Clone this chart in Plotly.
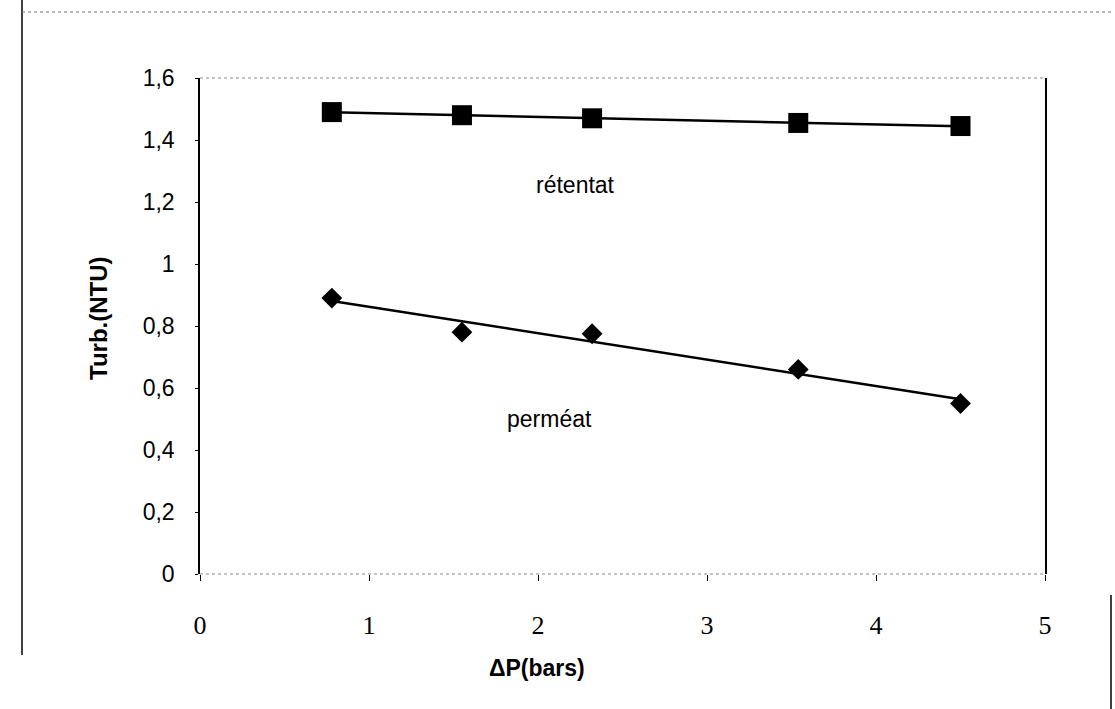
import numpy as np
import plotly.graph_objects as go

# Transmembrane pressure (bars) and turbidity (NTU)
dp_bars = [0.78, 1.55, 2.32, 3.54, 4.5]
turb_retentat = [1.49, 1.48, 1.47, 1.455, 1.445]
turb_permeat = [0.89, 0.78, 0.775, 0.66, 0.55]

y_tickvals = [0, 0.2, 0.4, 0.6, 0.8, 1.0, 1.2, 1.4, 1.6]
y_ticktext = ["0", "0,2", "0,4", "0,6", "0,8", "1", "1,2", "1,4", "1,6"]
x_tickvals = [0, 1, 2, 3, 4, 5]
x_ticktext = ["0", "1", "2", "3", "4", "5"]

SANS = "Liberation Sans, Arial, sans-serif"
SERIF = "Liberation Serif, Times New Roman, serif"

W, H = 1115, 709
M = dict(l=200, r=70, t=78, b=135)

fig = go.Figure()


def add_series(y, symbol, size):
    # linear trendline spanning the measured pressure range
    slope, intercept = np.polyfit(dp_bars, y, 1)
    xs = [min(dp_bars), max(dp_bars)]
    fig.add_trace(go.Scatter(
        x=xs, y=[slope * v + intercept for v in xs], mode="lines",
        line=dict(color="black", width=2.5), hoverinfo="skip", showlegend=False))
    fig.add_trace(go.Scatter(
        x=dp_bars, y=y, mode="markers",
        marker=dict(symbol=symbol, size=size, color="black"), showlegend=False))


add_series(turb_retentat, "square", 20)
add_series(turb_permeat, "diamond", 16)

fig.add_annotation(x=2.22, y=1.255, text="rétentat", showarrow=False,
                   font=dict(family=SANS, size=23, color="black"))
fig.add_annotation(x=2.07, y=0.50, text="perméat", showarrow=False,
                   font=dict(family=SANS, size=23, color="black"))


def px_x(p):
    return (p - M["l"]) / (W - M["l"] - M["r"])


def px_y(p):
    return (H - M["b"] - p) / (H - M["t"] - M["b"])


# axis titles
fig.add_annotation(x=px_x(98), y=px_y(318), xref="paper", yref="paper",
                   xanchor="center", yanchor="middle",
                   text="<b>Turb.(NTU)</b>", textangle=-90, showarrow=False,
                   font=dict(family=SANS, size=24, color="black"))
fig.add_annotation(x=px_x(537), y=px_y(668), xref="paper", yref="paper",
                   xanchor="center", yanchor="middle",
                   text="<b>ΔP(bars)</b>", showarrow=False,
                   font=dict(family=SANS, size=23, color="black"))

# faint dotted top and bottom edges of the plot area
for yy in (0, 1):
    fig.add_shape(type="line", xref="paper", yref="paper", x0=0, x1=1, y0=yy, y1=yy,
                  line=dict(color="#888888", width=1, dash="dot"))

# chart-area frame
fig.add_shape(type="line", xref="paper", yref="paper",
              x0=px_x(22), x1=px_x(22), y0=px_y(0), y1=px_y(655),
              line=dict(color="black", width=1.5))
fig.add_shape(type="line", xref="paper", yref="paper",
              x0=px_x(22), x1=px_x(1114), y0=px_y(12), y1=px_y(12),
              line=dict(color="#777777", width=1, dash="dot"))
fig.add_shape(type="line", xref="paper", yref="paper",
              x0=px_x(1111), x1=px_x(1111), y0=px_y(595), y1=px_y(709),
              line=dict(color="black", width=1.5))

fig.update_layout(
    width=W, height=H, margin=M,
    paper_bgcolor="white", plot_bgcolor="white",
    xaxis=dict(range=[0, 5], tickvals=x_tickvals, ticktext=x_ticktext,
               showgrid=False, zeroline=False, showline=False,
               ticks="outside", ticklen=6, tickcolor="black", ticklabelstandoff=22,
               tickfont=dict(family=SERIF, size=26, color="black")),
    yaxis=dict(range=[0, 1.6], tickvals=y_tickvals, ticktext=y_ticktext,
               showgrid=False, zeroline=False, showline=True, mirror=True,
               linecolor="black", linewidth=1.5,
               ticks="outside", ticklen=3, tickcolor="black", ticklabelstandoff=16,
               tickfont=dict(family=SANS, size=23, color="black")),
)

fig.write_html("out.html")
